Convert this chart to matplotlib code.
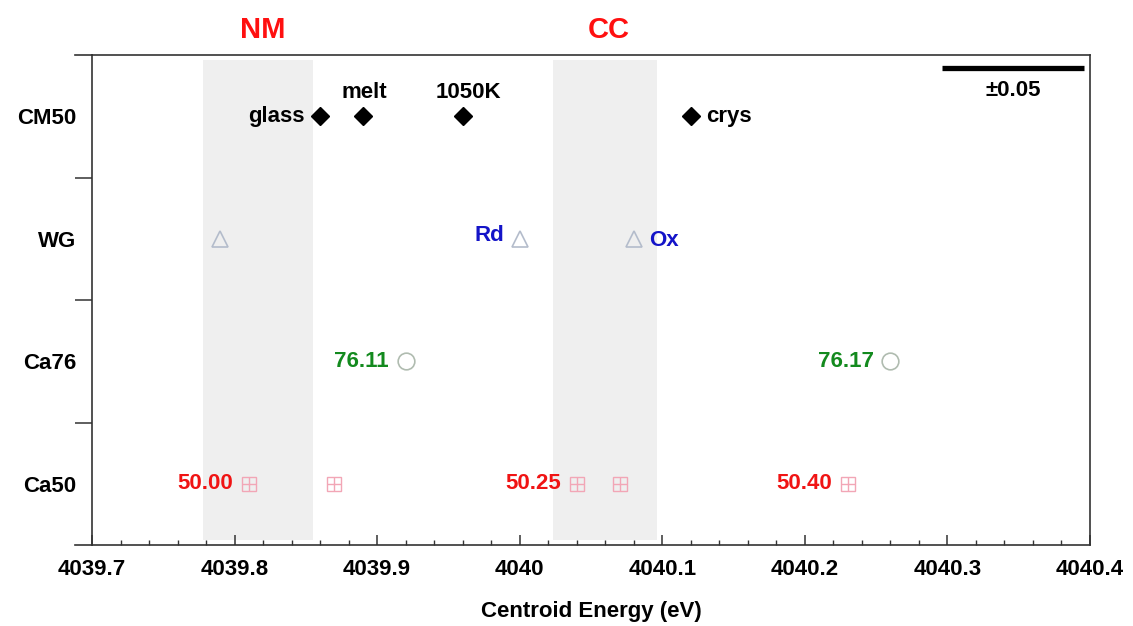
import numpy as np
import matplotlib.pyplot as plt
from matplotlib.ticker import MultipleLocator, FixedLocator

plt.rcParams['font.family'] = ['Liberation Sans', 'DejaVu Sans']
plt.rcParams['font.weight'] = 'bold'

# rows, bottom to top
rows = ["Ca50", "Ca76", "WG", "CM50"]
row_pos = [0.5, 1.5, 2.5, 3.5]

# centroid energies (eV)
cm50_x = [4039.86, 4039.89, 4039.96, 4040.12]
cm50_labels = ["glass", "melt", "1050K", "crys"]

wg_x = [4039.79, 4040.00, 4040.08]
wg_labels = ["", "Rd", "Ox"]

ca76_x = [4039.92, 4040.26]
ca76_labels = ["76.11", "76.17"]

ca50_x = [4039.81, 4039.87, 4040.04, 4040.07, 4040.23]
ca50_labels = ["50.00", "", "50.25", "", "50.40"]

# shaded regions
band_names = ["NM", "CC"]
band_lo = [4039.778, 4040.023]
band_hi = [4039.855, 4040.096]

scale_bar = [4040.296, 4040.396]
scale_text = "±0.05"

x_min, x_max = 4039.7, 4040.4

fig = plt.figure(figsize=(11.33, 6.26), dpi=100)
ax = fig.add_axes([92 / 1133, 1 - 545 / 626, 998 / 1133, 490 / 626])

# bands
for name, lo, hi in zip(band_names, band_lo, band_hi):
    ax.axvspan(lo, hi, ymin=0.01, ymax=0.99, color="#efefef", lw=0, zorder=0)
    ax.text((lo + hi) / 2 + 0.003, 1.051, name, transform=ax.get_xaxis_transform(),
            ha="center", va="center", color="#ff1010", fontsize=21, fontweight="bold")

fs = 16

# CM50: black diamonds
y = row_pos[3]
ax.plot(cm50_x, [y] * len(cm50_x), "D", ms=9, color="black", ls="none", zorder=3)
cm50_off = [(-11, 0, "right"), (1, 17, "center"), (4, 17, "center"), (11, 0, "left")]
for x, lab, (dx, dy, ha) in zip(cm50_x, cm50_labels, cm50_off):
    ax.annotate(lab, (x, y), xytext=(dx, dy), textcoords="offset points",
                ha=ha, va="center", fontsize=fs, fontweight="bold", color="black")

# WG: open triangles
y = row_pos[2]
ax.plot(wg_x, [y] * len(wg_x), "^", ms=12, mfc="none", mec="#b4bccb", mew=1.2, ls="none", zorder=3)
wg_off = [(0, 0, "center"), (-11, 2, "right"), (11, -1.5, "left")]
for x, lab, (dx, dy, ha) in zip(wg_x, wg_labels, wg_off):
    if lab:
        ax.annotate(lab, (x, y), xytext=(dx, dy), textcoords="offset points",
                    ha=ha, va="center", fontsize=fs, fontweight="bold", color="#1414c8")

# Ca76: open circles
y = row_pos[1]
ax.plot(ca76_x, [y] * len(ca76_x), "o", ms=12, mfc="none", mec="#b0bcb0", mew=1.2, ls="none", zorder=3)
for x, lab in zip(ca76_x, ca76_labels):
    ax.annotate(lab, (x, y), xytext=(-12, 0), textcoords="offset points",
                ha="right", va="center", fontsize=fs, fontweight="bold", color="#138a1e")

# Ca50: squares with cross
y = row_pos[0]
ax.plot(ca50_x, [y] * len(ca50_x), "s", ms=10.5, mfc="none", mec="#f2a6b6", mew=1.0, ls="none", zorder=3)
ax.plot(ca50_x, [y] * len(ca50_x), "+", ms=10.5, mec="#f2a6b6", mew=1.0, ls="none", zorder=3)
for x, lab in zip(ca50_x, ca50_labels):
    if lab:
        ax.annotate(lab, (x, y), xytext=(-11, 0), textcoords="offset points",
                    ha="right", va="center", fontsize=fs, fontweight="bold", color="#f01414")

# scale bar
ax.plot(scale_bar, [3.894, 3.894], color="black", lw=3.8, solid_capstyle="butt")
ax.text(np.mean(scale_bar), 3.714, scale_text, ha="center", va="center",
        fontsize=fs, fontweight="bold")

ax.set_xlim(x_min, x_max)
ax.set_ylim(0, 4)

for s in ax.spines.values():
    s.set_color("#333333")
    s.set_linewidth(1.2)

# extend top and bottom frame lines to the left
ext = 17 / 998
for yy in (0, 1):
    ax.plot([-ext, 0], [yy, yy], transform=ax.transAxes, color="#333333", lw=1.2, clip_on=False)

ax.xaxis.set_major_locator(MultipleLocator(0.1))
ax.xaxis.set_minor_locator(MultipleLocator(0.02))
ax.xaxis.set_major_formatter(plt.FuncFormatter(lambda v, p: f"{v:.1f}".rstrip("0").rstrip(".") if abs(v - round(v)) < 1e-6 else f"{v:.1f}"))
ax.tick_params(axis="x", which="major", direction="in", length=7, width=1.1, color="#333333",
               labelsize=fs, pad=10, top=False)
ax.tick_params(axis="x", which="minor", direction="in", length=3.5, width=1.0, color="#333333", top=False)

ax.yaxis.set_major_locator(FixedLocator([1, 2, 3]))
ax.yaxis.set_major_formatter(plt.NullFormatter())
ax.yaxis.set_minor_locator(FixedLocator(row_pos))
ax.yaxis.set_minor_formatter(plt.FixedFormatter(rows))
ax.tick_params(axis="y", which="major", direction="out", length=12, width=1.1, color="#333333")
ax.tick_params(axis="y", which="minor", length=0, labelsize=fs, pad=11)
for t in ax.get_xticklabels() + ax.get_yticklabels(minor=True):
    t.set_fontweight("bold")

ax.set_xlabel("Centroid Energy (eV)", fontsize=fs, fontweight="bold", labelpad=15)

fig.savefig("out.png", dpi=100)
